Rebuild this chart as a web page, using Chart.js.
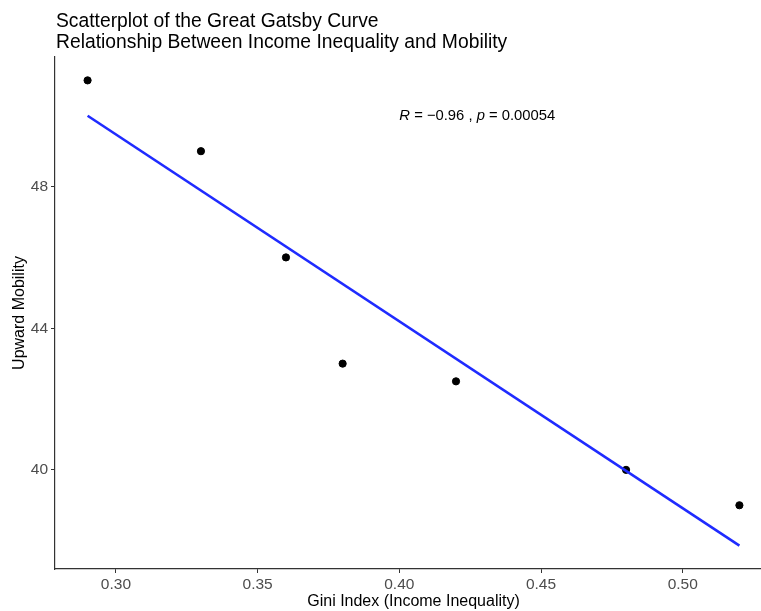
<!DOCTYPE html>
<html>
<head>
<meta charset="utf-8">
<script src="https://cdn.jsdelivr.net/npm/chart.js@4.4.0/dist/chart.umd.min.js"></script>
<style>
  html, body { margin: 0; padding: 0; background: #fff; overflow: hidden; }
  #wrap { width: 790px; height: 611px; }
</style>
</head>
<body>
<div id="wrap"><canvas id="myChart" width="790" height="611"></canvas></div>
<script>
// data
const giniValues = [0.29, 0.33, 0.36, 0.38, 0.42, 0.48, 0.52];
const mobilityValues = [51, 49, 46, 43, 42.5, 40, 39];
// fitted regression line, end points
const fitX = [0.29, 0.52];
const fitY = [50.0, 37.86];
const xTicks = [0.30, 0.35, 0.40, 0.45, 0.50];
const yTicks = [40, 44, 48];

const titleLines = ['Scatterplot of the Great Gatsby Curve', 'Relationship Between Income Inequality and Mobility'];
const xTitle = 'Gini Index (Income Inequality)';
const yTitle = 'Upward Mobility';
const statLabel = {x: 0.40, y: 50, r: '\u22120.96', p: '0.00054'};

const FONT = '"Liberation Sans", Arial, Helvetica, sans-serif';

const textPlugin = {
  id: 'textPlugin',
  afterDraw(chart) {
    const ctx = chart.ctx;
    const area = chart.chartArea;
    ctx.save();
    ctx.fillStyle = '#000';
    ctx.textBaseline = 'alphabetic';
    ctx.textAlign = 'left';
    ctx.font = '19.3px ' + FONT;
    ctx.fillText(titleLines[0], area.left + 1, 27);
    ctx.fillText(titleLines[1], area.left + 1, 48);

    // axis titles
    ctx.font = '16px ' + FONT;
    ctx.textAlign = 'center';
    ctx.fillText(xTitle, (area.left + area.right) / 2, 606);
    ctx.save();
    ctx.translate(24, (area.top + area.bottom) / 2);
    ctx.rotate(-Math.PI / 2);
    ctx.fillText(yTitle, 0, 0);
    ctx.restore();

    // correlation label
    const px = chart.scales.x.getPixelForValue(statLabel.x);
    const py = chart.scales.y.getPixelForValue(statLabel.y);
    ctx.textAlign = 'left';
    ctx.textBaseline = 'middle';
    const parts = [
      ['italic', 'R'], ['normal', ' = ' + statLabel.r + ' , '],
      ['italic', 'p'], ['normal', ' = ' + statLabel.p]
    ];
    let cx = px;
    parts.forEach(p => {
      ctx.font = p[0] + ' 14.8px ' + FONT;
      ctx.fillText(p[1], cx, py);
      cx += ctx.measureText(p[1]).width;
    });
    ctx.restore();
  }
};

const data = {
  datasets: [
    {
      type: 'line',
      label: 'fit',
      data: fitX.map((x, i) => ({x: x, y: fitY[i]})),
      borderColor: '#1f2bff',
      borderWidth: 2.6,
      pointRadius: 0,
      fill: false
    },
    {
      type: 'scatter',
      label: 'points',
      data: giniValues.map((x, i) => ({x: x, y: mobilityValues[i]})),
      backgroundColor: '#000',
      borderColor: '#000',
      pointRadius: 3.6
    }
  ]
};

const config = {
  type: 'scatter',
  data: data,
  options: {
    responsive: false,
    animation: false,
    layout: { padding: { top: 57, right: 18, left: 0, bottom: 0 } },
    plugins: {
      legend: { display: false },
      title: { display: false },
      tooltip: { enabled: false }
    },
    scales: {
      x: {
        type: 'linear',
        min: 0.2785,
        max: 0.5315,
        afterBuildTicks: s => { s.ticks = xTicks.map(v => ({value: v})); },
        afterFit: s => { s.height = 42; },
        grid: { drawOnChartArea: false, drawTicks: true, tickLength: 4, color: '#333', lineWidth: 1 },
        border: { display: true, color: '#333', width: 1.2 },
        ticks: {
          font: { size: 15.5, family: FONT },
          color: '#4d4d4d',
          padding: 2,
          maxRotation: 0,
          callback: v => v.toFixed(2)
        }
      },
      y: {
        type: 'linear',
        min: 37.2,
        max: 51.66,
        afterBuildTicks: s => { s.ticks = yTicks.map(v => ({value: v})); },
        afterFit: s => { s.width = 55; },
        grid: { drawOnChartArea: false, drawTicks: true, tickLength: 4, color: '#333', lineWidth: 1 },
        border: { display: true, color: '#333', width: 1.2 },
        ticks: {
          font: { size: 15.5, family: FONT },
          color: '#4d4d4d',
          padding: 3,
          callback: v => String(v)
        }
      }
    }
  },
  plugins: [textPlugin]
};

const ctx = document.getElementById('myChart').getContext('2d');
const chart = new Chart(ctx, config);
</script>
</body>
</html>
